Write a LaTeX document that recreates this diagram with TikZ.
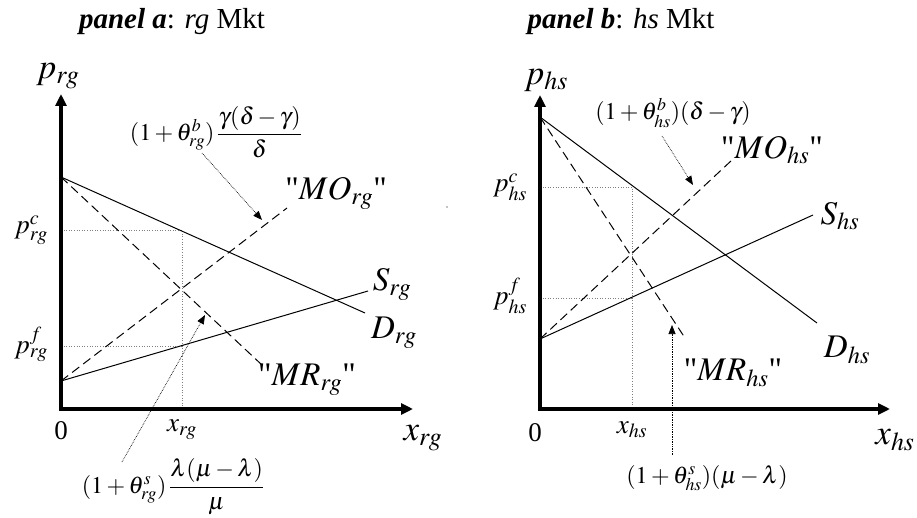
\documentclass[tikz,border=0pt]{standalone}
\usepackage{mathptmx}
\usepackage{fontspec}
\setmainfont{Liberation Serif}
\newfontfamily\qfont{Liberation Serif}
\newcommand{\sq}{{\qfont\symbol{34}}}
\usetikzlibrary{arrows.meta}
\tikzset{
 axis/.style={line width=3.5pt, {Triangle[length=12pt,width=11pt]}-{Triangle[length=12pt,width=11pt]}},
 curve/.style={line width=1pt},
 dcurve/.style={line width=1pt, dash pattern=on 9pt off 5pt},
 guide/.style={line width=0.6pt, gray, dotted},
 pointer/.style={line width=0.7pt, densely dotted, -{Triangle[length=9pt,width=7pt]}},
 axl/.style={font=\fontsize{35}{38}\selectfont, inner sep=0pt},
 big/.style={font=\fontsize{33}{36}\selectfont, inner sep=0pt},
 mid/.style={font=\fontsize{27}{30}\selectfont, inner sep=0pt},
 ann/.style={font=\fontsize{24}{28}\selectfont, inner sep=0pt},
 ttl/.style={font=\fontsize{29}{32}\selectfont, inner sep=0pt},
}
\begin{document}
\begin{tikzpicture}[x=1pt,y=-1pt]
\useasboundingbox (0,0) rectangle (917,518);
% ---------------- panel a ----------------
\node[ttl] (ttlA) at (172,22) {\textbf{\textit{panel a}}: \textit{rg} Mkt};
\coordinate (oA) at (61,409);
\coordinate (yA) at (61,94);
\coordinate (xA) at (413,409);
\coordinate (dA0) at (61,177); \coordinate (dA1) at (365,313);
\coordinate (sA0) at (61,381); \coordinate (sA1) at (368,291);
\coordinate (mrA1) at (262,365); \coordinate (moA1) at (287,208);
\coordinate (pcA) at (61,230); \coordinate (ccA) at (182,230);
\coordinate (pfA) at (61,346); \coordinate (cfA) at (182,346);
\coordinate (txA) at (182,409);
\draw[guide] (pcA) -- (ccA) -- (txA);
\draw[guide] (pfA) -- (cfA);
\draw[curve] (dA0) -- (dA1);
\draw[curve] (sA0) -- (sA1);
\draw[dcurve] (dA0) -- (mrA1);
\draw[dcurve] (sA0) -- (moA1);
\draw[axis] (yA) -- (oA) -- (xA);
\node[axl] (lpA) at (58,76) {$p_{rg}$};
\node[axl] (lxA) at (423,438) {$x_{rg}$};
\node[mid] (l0A) at (61,431) {0};
\node[mid] (ltxA) at (182,430) {$x_{rg}$};
\node[mid] (lpcA) at (31,230) {$p^c_{rg}$};
\node[mid] (lpfA) at (31,344) {$p^f_{rg}$};
\node[big] (lDA) at (394,333) {$D_{rg}$};
\node[big] (lSA) at (392,284) {$S_{rg}$};
\node[big] (lMOA) at (336,193) {\sq$MO_{rg}$\sq};
\node[big] (lMRA) at (307,380) {\sq$MR_{rg}$\sq};
\node[ann] (aTA) at (216,132) {$(1+\theta^b_{rg})\,\displaystyle\frac{\gamma(\delta-\gamma)}{\delta}$};
\node[ann] (aBA) at (173,487) {$(1+\theta^s_{rg})\,\displaystyle\frac{\lambda(\mu-\lambda)}{\mu}$};
\coordinate (pTA0) at (202,153); \coordinate (pTA1) at (262,220);
\coordinate (pBA0) at (122,462); \coordinate (pBA1) at (205,315);
\draw[pointer] (pTA0) -- (pTA1);
\draw[pointer] (pBA0) -- (pBA1);
\fill (447,207) circle (0.7pt);
% ---------------- panel b ----------------
\node[ttl] (ttlB) at (621,22) {\textbf{\textit{panel b}}: \textit{hs} Mkt};
\coordinate (oB) at (540,409);
\coordinate (yB) at (540,95);
\coordinate (xB) at (890,409);
\coordinate (dB0) at (540,117); \coordinate (dB1) at (817,323);
\coordinate (sB0) at (540,339); \coordinate (sB1) at (813,215);
\coordinate (mrB1) at (685,338); \coordinate (moB1) at (732,160);
\coordinate (pcB) at (540,187); \coordinate (ccB) at (632,187);
\coordinate (pfB) at (540,298); \coordinate (cfB) at (632,298);
\coordinate (txB) at (632,409);
\draw[guide] (pcB) -- (ccB) -- (txB);
\draw[guide] (pfB) -- (cfB);
\draw[curve] (dB0) -- (dB1);
\draw[curve] (sB0) -- (sB1);
\draw[dcurve] (dB0) -- (mrB1);
\draw[dcurve] (sB0) -- (moB1);
\draw[axis] (yB) -- (oB) -- (xB);
\node[axl] (lpB) at (546,80) {$p_{hs}$};
\node[axl] (lxB) at (895,440) {$x_{hs}$};
\node[mid] (l0B) at (535,433) {0};
\node[mid] (ltxB) at (632,430) {$x_{hs}$};
\node[mid] (lpcB) at (510,187) {$p^c_{hs}$};
\node[mid] (lpfB) at (510,296) {$p^f_{hs}$};
\node[big] (lDB) at (847,350) {$D_{hs}$};
\node[big] (lSB) at (840,216) {$S_{hs}$};
\node[big] (lMOB) at (772,150) {\sq$MO_{hs}$\sq};
\node[big] (lMRB) at (733,373) {\sq$MR_{hs}$\sq};
\node[ann] (aTB) at (673,113) {$(1+\theta^b_{hs})(\delta-\gamma)$};
\node[ann] (aBB) at (707,478) {$(1+\theta^s_{hs})(\mu-\lambda)$};
\coordinate (pTB0) at (662,136); \coordinate (pTB1) at (693,185);
\coordinate (pBB0) at (672,455); \coordinate (pBB1) at (672,325);
\draw[pointer] (pTB0) -- (pTB1);
\draw[pointer] (pBB0) -- (pBB1);
\end{tikzpicture}
\end{document}
